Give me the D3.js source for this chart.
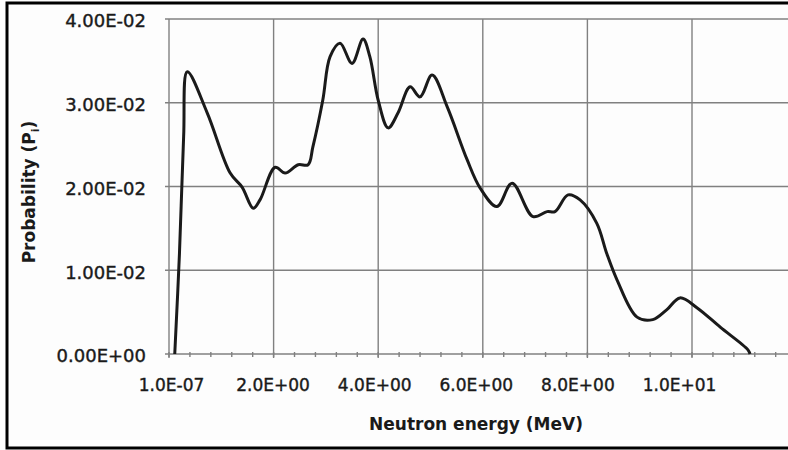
<!DOCTYPE html>
<html>
<head>
<meta charset="utf-8">
<script src="https://cdn.jsdelivr.net/npm/d3@7"></script>
<style>
  body { margin: 0; background: #fff; }
  svg { display: block; }
  text { font-family: "DejaVu Sans", sans-serif; fill: #1a1a1a; }
</style>
</head>
<body>
<svg id="chart"></svg>
<script>
var width = 788,
    height = 450;

// neutron energy (MeV) and probability
var energy = [0.11, 0.2, 0.28, 0.35, 0.73, 1.17, 1.40, 1.61, 1.74, 2.03, 2.22, 2.47, 2.66, 2.75,
              2.94, 3.08, 3.27, 3.50, 3.71, 3.84, 4.00, 4.19, 4.38, 4.61, 4.80, 5.03, 5.32,
              5.70, 5.95, 6.27, 6.56, 6.96, 7.23, 7.38, 7.63, 7.86, 8.18, 8.37, 8.57, 8.95,
              9.25, 9.52, 9.77, 10.1, 10.54, 11.07, 11.11];
var prob = [0.0, 0.012, 0.026, 0.0337, 0.0288, 0.0216, 0.0199, 0.0174, 0.0184, 0.0223, 0.0216, 0.0226, 0.0226, 0.0247,
            0.0303, 0.0355, 0.0371, 0.0347, 0.0376, 0.0355, 0.0303, 0.0270, 0.0288, 0.0319, 0.0307, 0.0333, 0.0295,
            0.0232, 0.0198, 0.0176, 0.0204, 0.0164, 0.0170, 0.0170, 0.0190, 0.0184, 0.0156, 0.0120, 0.0088, 0.0044,
            0.0041, 0.0053, 0.0067, 0.0055, 0.0032, 0.0005, 0.0];

var xTickValues = [1e-7, 2, 4, 6, 8, 10];
var xTickLabels = ["1.0E-07", "2.0E+00", "4.0E+00", "6.0E+00", "8.0E+00", "1.0E+01"];
var yTickValues = [0, 0.01, 0.02, 0.03, 0.04];
var yTickLabels = ["0.00E+00", "1.00E-02", "2.00E-02", "3.00E-02", "4.00E-02"];

var svg = d3.select("#chart").attr("width", width).attr("height", height);

svg.append("rect").attr("width", width).attr("height", height).attr("fill", "#fdfdfd");

var x = d3.scaleLinear().domain([0, 12]).range([169, 169 + 12 * 52.3]);
var xLabel = d3.scaleLinear().domain([0, 10]).range([171, 679]);
var y = d3.scaleLinear().domain([0, 0.04]).range([354, 19]);

var grid = svg.append("g").attr("stroke", "#808080").attr("stroke-width", 1.4);

grid.selectAll(".vg")
  .data(xTickValues)
  .enter().append("line")
  .attr("x1", function(d) { return x(d); })
  .attr("x2", function(d) { return x(d); })
  .attr("y1", y(0.04))
  .attr("y2", y(0) + 4);

grid.selectAll(".hg")
  .data(yTickValues)
  .enter().append("line")
  .attr("x1", x(0) - 4)
  .attr("x2", width)
  .attr("y1", function(d) { return y(d); })
  .attr("y2", function(d) { return y(d); });

// minor ticks on the energy axis
grid.selectAll(".mt")
  .data(d3.range(0, 12.01, 0.4))
  .enter().append("line")
  .attr("x1", function(d) { return x(d); })
  .attr("x2", function(d) { return x(d); })
  .attr("y1", y(0) - 2)
  .attr("y2", y(0) + 3);

var line = d3.line()
  .x(function(d, i) { return x(energy[i]); })
  .y(function(d, i) { return y(prob[i]); })
  .curve(d3.curveCatmullRom.alpha(0.5));

svg.append("path")
  .datum(prob)
  .attr("d", line)
  .attr("fill", "none")
  .attr("stroke", "#1a1a1a")
  .attr("stroke-width", 3)
  .attr("stroke-linejoin", "round");

// axes labels
var xAxis = d3.axisBottom(xLabel)
  .tickValues(xTickValues)
  .tickSize(0)
  .tickPadding(0)
  .tickFormat(function(d, i) { return xTickLabels[i]; });

var gx = svg.append("g").attr("transform", "translate(0," + 391 + ")").call(xAxis);
gx.select(".domain").remove();
gx.selectAll("text").attr("font-size", 17).attr("dy", 0).attr("font-family", "DejaVu Sans")
  .attr("fill", "#1a1a1a").attr("stroke", "#1a1a1a").attr("stroke-width", 0.4);

var yAxis = d3.axisLeft(y)
  .tickValues(yTickValues)
  .tickSize(0)
  .tickPadding(0)
  .tickFormat(function(d, i) { return yTickLabels[i]; });

var gy = svg.append("g").attr("transform", "translate(146,2)").call(yAxis);
gy.select(".domain").remove();
gy.selectAll("text").attr("font-size", 18).attr("font-family", "DejaVu Sans")
  .attr("fill", "#1a1a1a").attr("stroke", "#1a1a1a").attr("stroke-width", 0.4);

svg.append("text")
  .attr("x", 476)
  .attr("y", 430)
  .attr("text-anchor", "middle")
  .attr("font-size", 17)
  .attr("font-weight", "bold")
  .text("Neutron energy (MeV)");

var yt = svg.append("text")
  .attr("transform", "translate(35,192) rotate(-90)")
  .attr("text-anchor", "middle")
  .attr("font-size", 17)
  .attr("font-weight", "bold");
yt.append("tspan").text("Probability (P");
yt.append("tspan").attr("font-size", 11).attr("dy", 4).text("i");
yt.append("tspan").attr("dy", -4).text(")");

// frame
svg.append("rect")
  .attr("x", 7).attr("y", 3)
  .attr("width", 820).attr("height", 445)
  .attr("fill", "none")
  .attr("stroke", "#000")
  .attr("stroke-width", 3);
</script>
</body>
</html>
